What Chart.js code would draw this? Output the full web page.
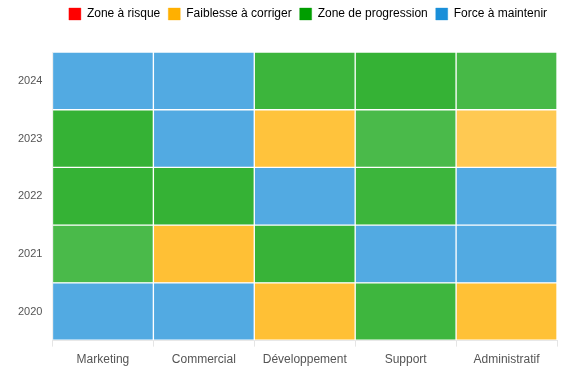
<!DOCTYPE html>
<html>
<head>
<meta charset="utf-8">
<script src="https://cdn.jsdelivr.net/npm/chart.js@4/dist/chart.umd.min.js"></script>
<style>
  html, body { margin: 0; padding: 0; background: #fff; }
  #wrap { width: 585px; height: 383px; }
</style>
</head>
<body>
<div id="wrap"><canvas id="c" width="585" height="383"></canvas></div>
<script>
// Categories (columns)
const departments = ['Marketing', 'Commercial', 'Développement', 'Support', 'Administratif'];
// Rows (bottom to top)
const years = ['2020', '2021', '2022', '2023', '2024'];
// Scores per year, one value per department (0-100)
const scores2020 = [93, 93, 59, 73, 58];
const scores2021 = [65, 59, 77, 93, 93];
const scores2022 = [79, 79, 93, 74, 93];
const scores2023 = [79, 93, 54, 65, 40];
const scores2024 = [93, 93, 74, 79, 67];
const scoreRows = [scores2020, scores2021, scores2022, scores2023, scores2024];

// Legend categories
const zoneNames = ['Zone à risque', 'Faiblesse à corriger', 'Zone de progression', 'Force à maintenir'];
const zoneLower = [0, 40, 60, 80];

const zoneRGB = [[255, 0, 0], [255, 176, 0], [0, 158, 0], [26, 143, 217]];

function zoneOf(s) {
  let z = 0;
  for (let i = 0; i < zoneLower.length; i++) if (s >= zoneLower[i]) z = i;
  return z;
}
function colorFor(s) {
  const z = zoneOf(s);
  const lo = zoneLower[z];
  const frac = Math.max(0, Math.min(1, (s - lo) / 20));
  const a = 0.68 + 0.12 * frac;
  const c = zoneRGB[z];
  return `rgba(${c[0]},${c[1]},${c[2]},${a.toFixed(3)})`;
}

const datasets = scoreRows.map((row, i) => ({
  label: years[i],
  data: row.map(() => 1),
  scores: row,
  backgroundColor: row.map(colorFor),
  borderColor: '#ffffff',
  borderWidth: 1,
  borderSkipped: false,
  barPercentage: 1,
  categoryPercentage: 1
}));

const legendSpacer = {
  id: 'legendSpacer',
  beforeInit(chart) {
    const orig = chart.legend.fit;
    chart.legend.fit = function () {
      orig.bind(chart.legend)();
      this.height += 22;
    };
  }
};

Chart.defaults.font.family = "'Liberation Sans', Arial, sans-serif";
Chart.defaults.color = '#555';

new Chart(document.getElementById('c'), {
  type: 'bar',
  data: { labels: departments, datasets },
  plugins: [legendSpacer],
  options: {
    responsive: false,
    animation: false,
    layout: { padding: { left: 8, right: -23, top: 0, bottom: 10 } },
    plugins: {
      tooltip: { enabled: false },
      legend: {
        position: 'top',
        onClick: null,
        labels: {
          boxWidth: 12,
          boxHeight: 12,
          padding: 8,
          font: { size: 12 },
          color: '#555',
          generateLabels() {
            return zoneNames.map((n, i) => {
              const c = zoneRGB[i];
              return {
                text: n,
                fillStyle: `rgb(${c[0]},${c[1]},${c[2]})`,
                strokeStyle: `rgba(${c[0]},${c[1]},${c[2]},0.35)`,
                lineWidth: 1,
                hidden: false,
                datasetIndex: i
              };
            });
          }
        }
      }
    },
    scales: {
      x: {
        stacked: true,
        grid: { color: '#e5e5e5', offset: true, tickLength: 6, drawOnChartArea: false },
        border: { color: '#e5e5e5' },
        ticks: { font: { size: 12 }, color: '#555', padding: 6 }
      },
      y: {
        stacked: true,
        min: 0,
        max: 5,
        afterBuildTicks(scale) {
          const t = [];
          for (let v = 0; v <= years.length; v += 0.5) t.push({ value: v });
          scale.ticks = t;
        },
        grid: {
          drawTicks: false,
          color: (ctx) => (ctx.tick && Number.isInteger(ctx.tick.value)) ? '#e5e5e5' : 'rgba(0,0,0,0)'
        },
        border: { color: '#e5e5e5' },
        ticks: {
          autoSkip: false,
          padding: 10,
          font: { size: 11 },
          color: '#555',
          callback(v) {
            if (Number.isInteger(v)) return '';
            return years[Math.floor(v)];
          }
        }
      },
      yR: {
        position: 'right',
        display: true,
        afterFit(scale) { scale.width = 51; },
        grid: { display: false, drawTicks: false },
        border: { display: false },
        ticks: { display: false }
      }
    }
  }
});
</script>
</body>
</html>
